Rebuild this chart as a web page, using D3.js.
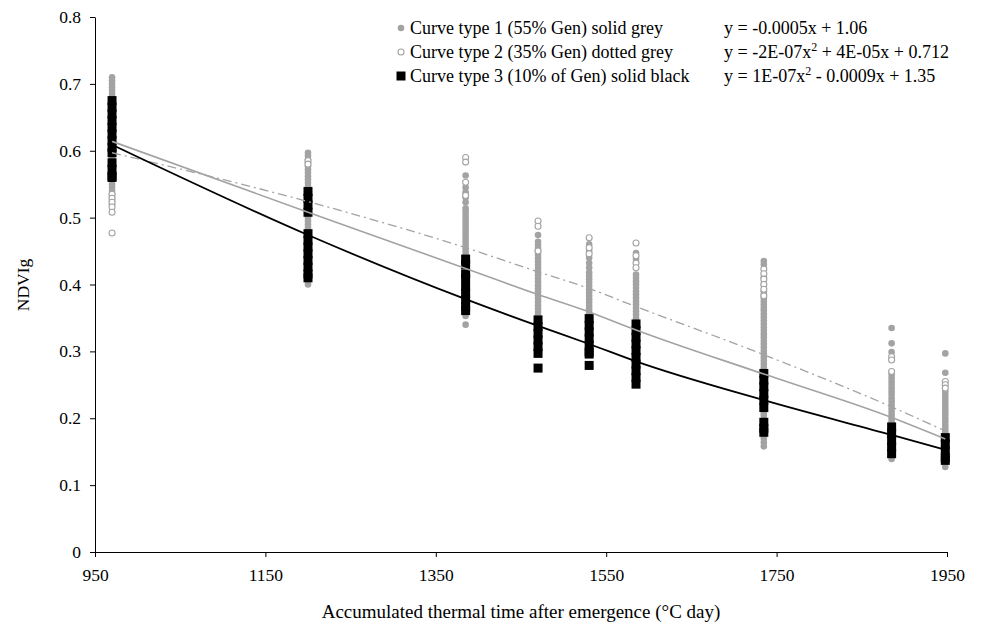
<!DOCTYPE html>
<meta charset="utf-8">
<script src="https://d3js.org/d3.v7.min.js"></script>
<style>
    body { margin: 0; background: #fff; }
    text { font-family: "Liberation Serif", "Times New Roman", serif; fill: #000; }
</style>
<div id="base"></div>
<script>
    // thermal time of each sampling date
    var groups = [970, 1200, 1385, 1470, 1530, 1585, 1735, 1885, 1948];

    // curve type 1 (filled grey circles), one list per date
    var type1 = [
        [0.71, 0.705, 0.70, 0.695, 0.69, 0.685, 0.68, 0.675, 0.60, 0.589, 0.555, 0.55, 0.545, 0.54, 0.535, 0.53, 0.525, 0.52],
        [0.597, 0.592, 0.587, 0.582, 0.577, 0.572, 0.567, 0.562, 0.557, 0.552, 0.547, 0.50, 0.495, 0.49, 0.485, 0.405, 0.40],
        [0.563, 0.545, 0.538, 0.53, 0.523, 0.514, 0.509, 0.504, 0.499, 0.494, 0.489, 0.484, 0.479, 0.474, 0.469, 0.464, 0.459, 0.454, 0.449, 0.444, 0.353, 0.34],
        [0.474, 0.464, 0.459, 0.454, 0.449, 0.444, 0.439, 0.434, 0.429, 0.424, 0.419, 0.414, 0.409, 0.404, 0.399, 0.394, 0.389, 0.384, 0.379, 0.374, 0.369, 0.364, 0.359, 0.354],
        [0.46, 0.45, 0.44, 0.432, 0.425, 0.418, 0.413, 0.408, 0.403, 0.398, 0.393, 0.388, 0.383, 0.378, 0.373, 0.368, 0.363, 0.358],
        [0.447, 0.438, 0.415, 0.41, 0.405, 0.40, 0.395, 0.39, 0.385, 0.38, 0.375, 0.37, 0.365, 0.36, 0.355, 0.35],
        [0.435, 0.43, 0.41, 0.40, 0.39, 0.385, 0.38, 0.375, 0.37, 0.365, 0.361, 0.356, 0.351, 0.346, 0.341, 0.336, 0.331, 0.326, 0.321, 0.316, 0.311, 0.306, 0.301, 0.296, 0.291, 0.286, 0.281, 0.276, 0.272, 0.208, 0.204, 0.17, 0.164, 0.158],
        [0.335, 0.312, 0.299, 0.265, 0.26, 0.255, 0.25, 0.245, 0.24, 0.235, 0.23, 0.225, 0.22, 0.215, 0.21, 0.205, 0.20, 0.195, 0.191, 0.139],
        [0.297, 0.268, 0.24, 0.235, 0.23, 0.225, 0.22, 0.215, 0.21, 0.205, 0.20, 0.195, 0.19, 0.185, 0.18, 0.176, 0.127]
    ];

    // curve type 2 (open grey circles)
    var type2 = [
        [0.535, 0.529, 0.523, 0.516, 0.508, 0.477],
        [0.585, 0.58],
        [0.59, 0.583, 0.553, 0.533],
        [0.495, 0.487, 0.45],
        [0.47, 0.455, 0.446],
        [0.462, 0.443, 0.432, 0.425],
        [0.423, 0.416, 0.408, 0.40, 0.393, 0.383],
        [0.292, 0.287, 0.27],
        [0.255, 0.25, 0.245]
    ];

    // curve type 3 (black squares)
    var type3 = [
        [0.675, 0.665, 0.655, 0.645, 0.635, 0.625, 0.615, 0.605, 0.597, 0.582, 0.572, 0.562, 0.56],
        [0.539, 0.529, 0.519, 0.508, 0.476, 0.466, 0.456, 0.446, 0.436, 0.426, 0.416, 0.41],
        [0.438, 0.43, 0.416, 0.41, 0.397, 0.387, 0.377, 0.367, 0.361],
        [0.347, 0.337, 0.327, 0.317, 0.307, 0.297, 0.275],
        [0.349, 0.339, 0.329, 0.319, 0.309, 0.299, 0.296, 0.279],
        [0.341, 0.331, 0.321, 0.311, 0.301, 0.291, 0.281, 0.271, 0.261, 0.251],
        [0.267, 0.257, 0.247, 0.237, 0.227, 0.216, 0.194, 0.185, 0.179],
        [0.187, 0.177, 0.167, 0.157, 0.147],
        [0.171, 0.161, 0.151, 0.141, 0.137]
    ];

    var fit1 = [0.614, 0.508, 0.424, 0.385, 0.359, 0.332, 0.266, 0.201, 0.169];
    var fit2 = [0.597, 0.524, 0.455, 0.419, 0.394, 0.367, 0.295, 0.217, 0.181];
    var fit3 = [0.609, 0.474, 0.378, 0.338, 0.311, 0.285, 0.227, 0.175, 0.153];

    var xTicks = [950, 1150, 1350, 1550, 1750, 1950];
    var yTicks = [0, 0.1, 0.2, 0.3, 0.4, 0.5, 0.6, 0.7, 0.8];

    var legendLabels = ["Curve type 1 (55% Gen) solid grey",
        "Curve type 2 (35% Gen) dotted grey",
        "Curve type 3 (10% of Gen) solid black"];

    var grey = "#a3a3a3";

    var svg = d3.select("#base")
        .append("svg")
        .attr("width", 989)
        .attr("height", 629);

    var x = d3.scaleLinear().domain([950, 1950]).range([95, 947]);
    var y = d3.scaleLinear().domain([0, 0.8]).range([552, 17]);

    // axes
    svg.append("g")
        .attr("transform", "translate(0,552)")
        .call(d3.axisBottom(x).tickValues(xTicks).tickSize(5).tickSizeOuter(0).tickFormat(d3.format("d")))
        .call(function (g) {
            g.selectAll("text").attr("dy", "1.2em").style("font-size", "17.5px")
                .style("font-family", "Liberation Serif");
        });

    svg.append("g")
        .attr("transform", "translate(95,0)")
        .call(d3.axisLeft(y).tickValues(yTicks).tickSize(5).tickSizeOuter(0)
            .tickFormat(function (d) { return d === 0 ? "0" : d3.format(".1f")(d); }))
        .call(function (g) {
            g.selectAll("text").attr("x", -14).style("font-size", "17.5px")
                .style("font-family", "Liberation Serif");
        });

    svg.selectAll(".domain, .tick line").attr("stroke", "#000");

    // points
    function flatten(list) {
        var out = [];
        list.forEach(function (vals, i) {
            vals.forEach(function (v) { out.push({ t: groups[i], v: v }); });
        });
        return out;
    }

    svg.append("g")
        .selectAll("circle")
        .data(flatten(type1))
        .enter()
        .append("circle")
        .attr("cx", function (d) { return x(d.t); })
        .attr("cy", function (d) { return y(d.v); })
        .attr("r", 3.3)
        .style("fill", grey);

    svg.append("g")
        .selectAll("circle")
        .data(flatten(type2))
        .enter()
        .append("circle")
        .attr("cx", function (d) { return x(d.t); })
        .attr("cy", function (d) { return y(d.v); })
        .attr("r", 3)
        .style("fill", "#fff")
        .style("stroke", grey)
        .style("stroke-width", 1.1);

    svg.append("g")
        .selectAll("rect")
        .data(flatten(type3))
        .enter()
        .append("rect")
        .attr("x", function (d) { return x(d.t) - 4.5; })
        .attr("y", function (d) { return y(d.v) - 4.5; })
        .attr("width", 9)
        .attr("height", 9)
        .style("fill", "#000");

    // trend lines
    function fitLine(vals) {
        return d3.line()
            .x(function (d, i) { return x(groups[i]); })
            .y(function (d) { return y(d); })
            .curve(d3.curveMonotoneX)(vals);
    }

    svg.append("path").attr("d", fitLine(fit2))
        .style("fill", "none").style("stroke", grey).style("stroke-width", 1.3)
        .style("stroke-dasharray", "9,4,2,4");
    svg.append("path").attr("d", fitLine(fit1))
        .style("fill", "none").style("stroke", grey).style("stroke-width", 1.6);
    svg.append("path").attr("d", fitLine(fit3))
        .style("fill", "none").style("stroke", "#000").style("stroke-width", 1.8);

    // legend
    var legend = svg.append("g").style("font-size", "18px");
    var rowY = [34, 58, 82];
    var markX = 401;

    legend.append("circle").attr("cx", markX).attr("cy", rowY[0] - 6).attr("r", 3.3).style("fill", grey);
    legend.append("circle").attr("cx", markX).attr("cy", rowY[1] - 6).attr("r", 3)
        .style("fill", "#fff").style("stroke", grey).style("stroke-width", 1.1);
    legend.append("rect").attr("x", markX - 4.5).attr("y", rowY[2] - 6 - 4.5)
        .attr("width", 9).attr("height", 9).style("fill", "#000");

    legendLabels.forEach(function (s, i) {
        legend.append("text").attr("x", markX + 9).attr("y", rowY[i]).text(s);
    });

    legend.append("text").attr("x", 724).attr("y", rowY[0]).text("y = -0.0005x + 1.06");

    var eq2 = legend.append("text").attr("x", 724).attr("y", rowY[1]);
    eq2.append("tspan").text("y = -2E-07x");
    eq2.append("tspan").attr("dy", -7).style("font-size", "12px").text("2");
    eq2.append("tspan").attr("dy", 7).text(" + 4E-05x + 0.712");

    var eq3 = legend.append("text").attr("x", 724).attr("y", rowY[2]);
    eq3.append("tspan").text("y = 1E-07x");
    eq3.append("tspan").attr("dy", -7).style("font-size", "12px").text("2");
    eq3.append("tspan").attr("dy", 7).text(" - 0.0009x + 1.35");

    // axis titles
    svg.append("text")
        .attr("text-anchor", "middle")
        .attr("transform", "translate(29,285) rotate(-90)")
        .style("font-size", "17.5px")
        .text("NDVIg");

    svg.append("text")
        .attr("text-anchor", "middle")
        .attr("x", 521)
        .attr("y", 618)
        .style("font-size", "19px")
        .text("Accumulated thermal time after emergence (°C day)");
</script>
